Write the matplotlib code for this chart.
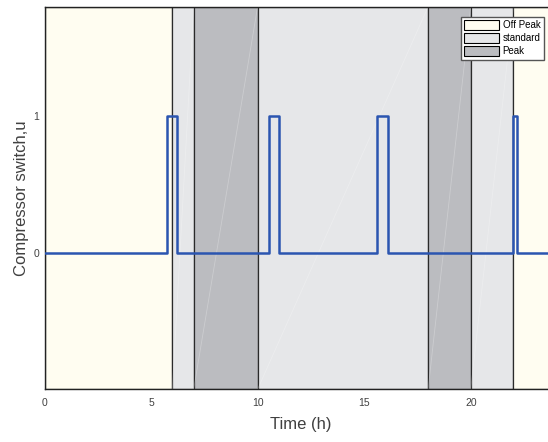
import numpy as np
import matplotlib
matplotlib.use('Agg')
import matplotlib.pyplot as plt
from matplotlib.patches import Patch

plt.rcParams['font.family'] = ['Liberation Sans', 'DejaVu Sans']

# tariff periods (h)
period_start = [0, 6, 7, 10, 18, 20, 22]
period_end = [6, 7, 10, 18, 20, 22, 24]
period_kind = ['Off Peak', 'standard', 'Peak', 'standard', 'Peak', 'standard', 'Off Peak']

# compressor on intervals (h)
pulse_on = [5.75, 10.55, 15.6, 22.0]
pulse_off = [6.2, 11.0, 16.1, 22.15]

colors = {'Off Peak': '#fffdf1', 'standard': '#e6e7e9', 'Peak': '#bbbcc0'}
line_col = '#2b55b0'
ymin, ymax = -1, 1.8

fig = plt.figure(figsize=(5.48, 4.42), dpi=100)
ax = fig.add_axes([44.5 / 548, (442 - 389.3) / 442, 511.5 / 548, 382.6 / 442])

for s, e, k in zip(period_start, period_end, period_kind):
    ax.axvspan(s, e, facecolor=colors[k], edgecolor='#2a2a2a', linewidth=0.9, zorder=1)
    if k != 'Off Peak':
        # faint patch diagonal, like the original render
        ax.plot([s, e], [ymin, ymax], color='white', alpha=0.25, linewidth=0.6, zorder=1.5)

# step signal built from the on/off times
t = [0]
u = [0]
for a, b in zip(pulse_on, pulse_off):
    t += [a, a, b, b]
    u += [0, 1, 1, 0]
t.append(24)
u.append(0)
ax.plot(t, u, color=line_col, linewidth=1.8, zorder=3)

ax.set_xlim(0, 24)
ax.set_ylim(ymin, ymax)
ax.set_xticks([0, 5, 10, 15, 20])
ax.set_yticks([0, 1])
ax.tick_params(axis='x', length=0, labelsize=7.5, colors='#404040', pad=6)
ax.tick_params(axis='y', length=0, labelsize=7.5, colors='#404040', pad=4)
for sp in ['left', 'bottom', 'top']:
    ax.spines[sp].set_color('#222222')
    ax.spines[sp].set_linewidth(1)
ax.spines['right'].set_visible(False)

ax.set_xlabel('Time (h)', fontsize=12, color='#404040', labelpad=7)
ax.set_ylabel('Compressor switch,u', fontsize=12, color='#404040', labelpad=3)

handles = [Patch(facecolor=colors[k], edgecolor='black', linewidth=0.8, label=k)
           for k in ['Off Peak', 'standard', 'Peak']]
fig.legend(handles=handles, loc='upper right', bbox_to_anchor=(544 / 548, 1 - 17 / 442),
           fontsize=7, frameon=True, fancybox=False, edgecolor='#555555',
           framealpha=1, handlelength=3.6, handleheight=1.1, handletextpad=0.35,
           labelspacing=0.3, borderpad=0.35, borderaxespad=0)

fig.savefig('out.png', dpi=100)
